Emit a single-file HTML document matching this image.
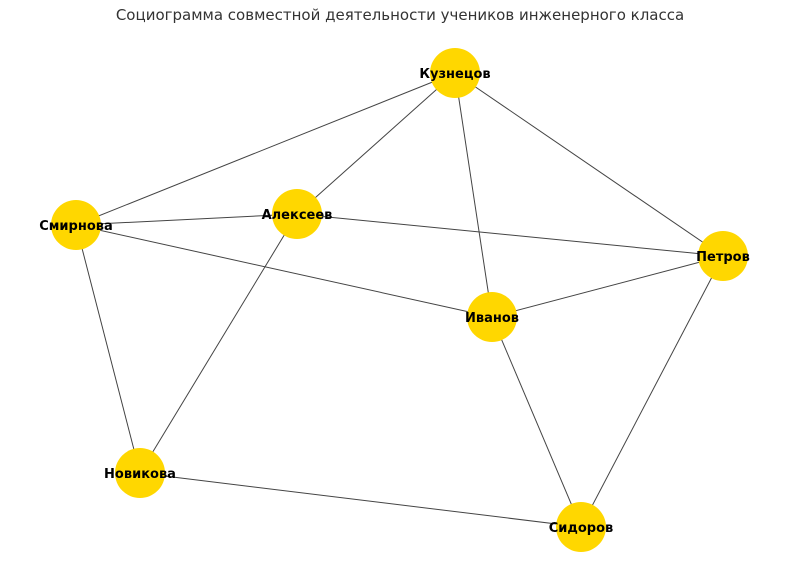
<!DOCTYPE html>
<html><head><meta charset="utf-8"><style>
html,body{margin:0;padding:0;background:#fff;}
svg{display:block;}
</style></head><body>
<svg width="800" height="583" viewBox="0 0 800 583" xmlns="http://www.w3.org/2000/svg">
<text x="400" y="20" text-anchor="middle" font-family="DejaVu Sans, Liberation Sans, sans-serif" font-size="15" fill="#333">Социограмма совместной деятельности учеников инженерного класса</text>
<g stroke="#444" stroke-width="1" fill="none">
<line x1="455" y1="73" x2="76" y2="225"/>
<line x1="455" y1="73" x2="297" y2="214"/>
<line x1="455" y1="73" x2="492" y2="317"/>
<line x1="455" y1="73" x2="723" y2="256"/>
<line x1="76" y1="225" x2="297" y2="214"/>
<line x1="76" y1="225" x2="492" y2="317"/>
<line x1="76" y1="225" x2="140" y2="473"/>
<line x1="297" y1="214" x2="723" y2="256"/>
<line x1="297" y1="214" x2="140" y2="473"/>
<line x1="723" y1="256" x2="492" y2="317"/>
<line x1="723" y1="256" x2="581" y2="527"/>
<line x1="492" y1="317" x2="581" y2="527"/>
<line x1="140" y1="473" x2="581" y2="527"/>
</g>
<g fill="#FFD700">
<circle cx="455" cy="73" r="25"/>
<circle cx="76" cy="225" r="25"/>
<circle cx="297" cy="214" r="25"/>
<circle cx="723" cy="256" r="25"/>
<circle cx="492" cy="317" r="25"/>
<circle cx="140" cy="473" r="25"/>
<circle cx="581" cy="527" r="25"/>
</g>
<g font-family="DejaVu Sans, Liberation Sans, sans-serif" font-size="13" font-weight="bold" fill="#000" text-anchor="middle">
<text x="455" y="78">Кузнецов</text>
<text x="76" y="230">Смирнова</text>
<text x="297" y="219">Алексеев</text>
<text x="723" y="261">Петров</text>
<text x="492" y="322">Иванов</text>
<text x="140" y="478">Новикова</text>
<text x="581" y="532">Сидоров</text>
</g>
</svg>
</body></html>
